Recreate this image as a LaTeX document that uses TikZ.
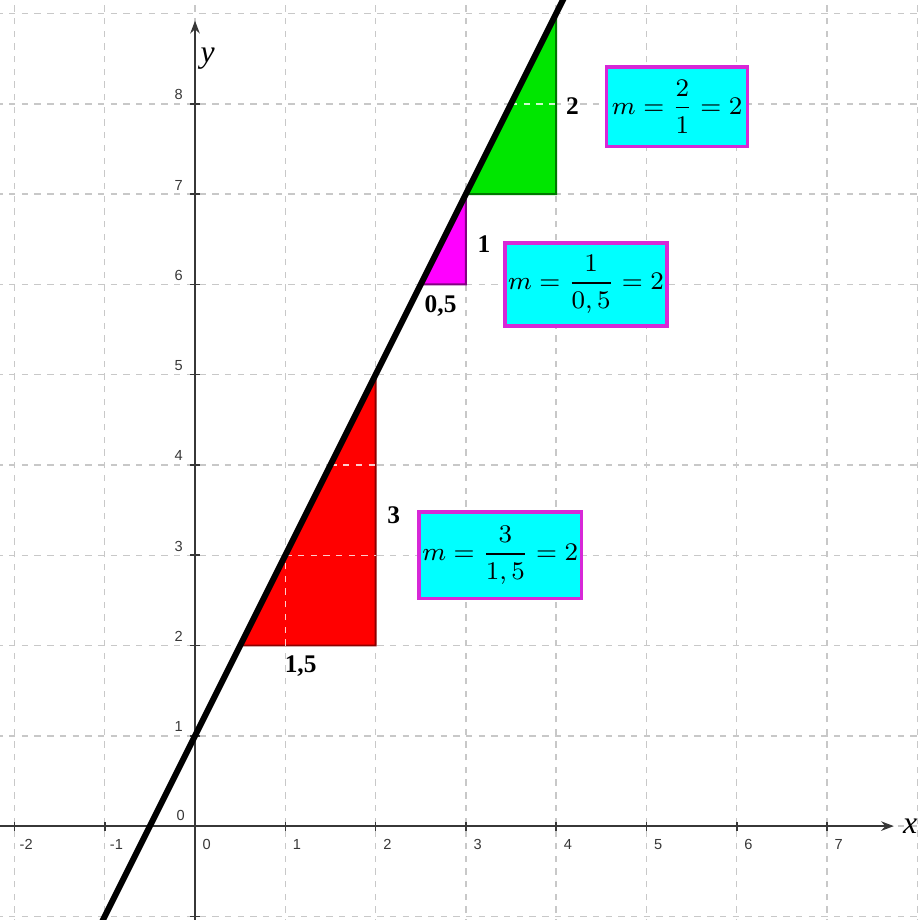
\documentclass[tikz,border=0pt]{standalone}
\usepackage{fontspec}
\setmainfont{Liberation Serif}
\setsansfont{Liberation Sans}
\usetikzlibrary{positioning, arrows.meta}
\definecolor{gridgrey}{RGB}{200,200,200}
\definecolor{axisgrey}{RGB}{55,55,55}
\definecolor{boxcyan}{RGB}{0,255,255}
\definecolor{boxmagenta}{RGB}{215,40,215}
\definecolor{redfill}{RGB}{255,0,0}
\definecolor{rededge}{RGB}{140,0,0}
\definecolor{greenfill}{RGB}{0,230,0}
\definecolor{greenedge}{RGB}{0,120,0}
\definecolor{pinkfill}{RGB}{255,0,255}
\definecolor{pinkedge}{RGB}{130,0,130}

\begin{document}
\begin{tikzpicture}[
        gridline/.style={gridgrey, dash pattern=on 2pt off 2pt, line width=0.45pt},
        innergrid/.style={white, opacity=0.8, dash pattern=on 2pt off 2pt, line width=0.45pt},
        axis/.style={axisgrey, line width=0.55pt, -{Stealth[length=4pt, width=3pt]}},
        ticklabel/.style={font=\sffamily\fontsize{4.6}{5}\selectfont, text=axisgrey, inner sep=0pt},
        sidelabel/.style={font=\bfseries\fontsize{8}{9}\selectfont, inner sep=0pt},
        slopebox/.style={draw=boxmagenta, fill=boxcyan, line width=1.1pt, minimum height=0.9cm, inner sep=1pt, font=\fontsize{8.5}{10}\selectfont},
        graph/.style={line width=1.9pt, black}
    ]
        \clip (-2.16,-1.03) rectangle (8.03,9.15);

        % Grid
        \foreach \i in {-2,...,8}
            \draw[gridline] (\i,-1.1) -- (\i,9.2);
        \foreach \j in {-1,...,9}
            \draw[gridline] (-2.2,\j) -- (8.1,\j);

        % Axes
        \draw[axis] (-2.16,0) -- (7.74,0) coordinate (xend);
        \draw[axis] (0,-1.1) -- (0,8.92) coordinate (yend);
        \node[font=\itshape\fontsize{10}{10}\selectfont, inner sep=0pt] (xlab) at (7.92,0.0) {x};
        \node[font=\itshape\fontsize{10}{10}\selectfont, inner sep=0pt] (ylab) at (0.14,8.5) {y};
        \foreach \i in {-2,...,7}
            \draw[axisgrey, line width=0.5pt] (\i,-0.05) -- (\i,0.05);
        \foreach \j in {-1,...,8}
            \draw[axisgrey, line width=0.5pt] (-0.05,\j) -- (0.05,\j);
        \foreach \i in {-2,...,7}
            \node[ticklabel] (xt\i) at (\i+0.13,-0.2) {\i};
        \foreach \j in {1,...,8}
            \node[ticklabel] (yt\j) at (-0.18,\j+0.1) {\j};
        \node[ticklabel] (yt0) at (-0.16,0.12) {0};

        % Triangles
        \filldraw[fill=redfill, draw=rededge, line width=0.6pt] (0.5,2) -- (2,2) -- (2,5) -- cycle;
        \filldraw[fill=pinkfill, draw=pinkedge, line width=0.6pt] (2.5,6) -- (3,6) -- (3,7) -- cycle;
        \filldraw[fill=greenfill, draw=greenedge, line width=0.6pt] (3,7) -- (4,7) -- (4,9) -- cycle;
        \draw[innergrid] (1,2) -- (1,3);
        \draw[innergrid] (1,3) -- (2,3);
        \draw[innergrid] (1.5,4) -- (2,4);
        \draw[innergrid] (3.5,8) -- (4,8);

        % Line y = 2x + 1
        \coordinate (lstart) at (-1.1,-1.2);
        \coordinate (lend) at (4.1,9.2);
        \draw[graph] (lstart) -- (lend);

        % Side labels
        \node[sidelabel] (run3) at (1.17,1.77) {1,5};
        \node[sidelabel] (rise3) at (2.2,3.44) {3};
        \node[sidelabel] (run1) at (2.72,5.76) {0,5};
        \node[sidelabel] (rise1) at (3.2,6.45) {1};
        \node[sidelabel] (rise2) at (4.18,7.98) {2};

        % Slope boxes
        \node[slopebox, minimum width=1.56cm, minimum height=0.88cm] (mtop) at (5.34,7.97) {$m=\displaystyle\frac{2}{1}=2$};
        \node[slopebox, minimum width=1.77cm, minimum height=0.92cm] (mmid) at (4.33,6.0) {$m=\displaystyle\frac{1}{0,5}=2$};
        \node[slopebox, minimum width=1.71cm, minimum height=0.96cm] (mlow) at (3.38,3.0) {$m=\displaystyle\frac{3}{1,5}=2$};

    \end{tikzpicture}
\end{document}
